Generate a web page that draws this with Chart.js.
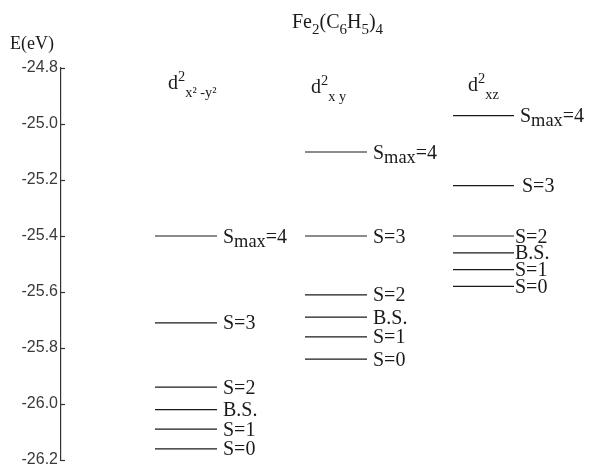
<!DOCTYPE html>
<html>
<head>
<meta charset="utf-8">
<script src="https://cdn.jsdelivr.net/npm/chart.js@4/dist/chart.umd.min.js"></script>
<style>
  html, body { margin: 0; padding: 0; background: #fff; }
  canvas { display: block; }
</style>
</head>
<body>
<canvas id="grafico" width="592" height="466"></canvas>
<script>
"use strict";

/* ===== dados: níveis de energia (eV) ===== */

const estados = ["Smax=4", "S=3", "S=2", "B.S.", "S=1", "S=0"];

const energiaX2Y2 = [-25.40, -25.71, -25.94, -26.02, -26.09, -26.16];
const energiaXY   = [-25.10, -25.40, -25.61, -25.69, -25.76, -25.84];
const energiaXZ   = [-24.97, -25.22, -25.40, -25.46, -25.52, -25.58];

const yMin = -26.2;
const yMax = -24.8;
const yPasso = 0.2;

/* ===== layout das colunas (unidades do eixo x) ===== */

const EIXO_X = 61;

const colunas = [
    { energia: energiaX2Y2, x0: 94,  x1: 156, gap: [6, 6, 6, 6, 6, 6] },
    { energia: energiaXY,   x0: 244, x1: 306, gap: [6, 6, 6, 6, 6, 6] },
    { energia: energiaXZ,   x0: 392, x1: 453, gap: [6, 8, 1, 1, 1, 1] }
];

const SERIF = "'Liberation Serif', 'DejaVu Serif', serif";
const SANS  = "'Liberation Sans', Arial, sans-serif";
const COR = "#1a1a1a";

/* ===== texto com sub/sobrescrito ===== */

function textoRico(ctx, x, y, partes, tam){

    ctx.textBaseline = "alphabetic";
    ctx.textAlign = "left";

    partes.forEach(function(p){

        const r = p.r || (p.sub || p.sup ? 0.72 : 1);
        const dy = p.sub ? tam * (p.dy || 0.32) : (p.sup ? -tam * 0.42 : 0);

        ctx.font = (tam * r) + "px " + SERIF;
        ctx.fillText(p.t, x, y + dy);
        x += ctx.measureText(p.t).width;

    });

}

function partesEstado(nome){

    if(nome === "Smax=4"){
        return [{ t: "S" }, { t: "max", sub: true, r: 0.92, dy: 0.2 }, { t: "=4" }];
    }

    return [{ t: nome }];

}

/* ===== datasets: uma linha por nível ===== */

const datasets = [];

colunas.forEach(function(c){

    c.energia.forEach(function(e){

        datasets.push({
            data: [{ x: c.x0, y: e }, { x: c.x1, y: e }],
            showLine: true,
            borderColor: COR,
            borderWidth: 1.2,
            pointRadius: 0
        });

    });

});

/* ===== plugin: rótulos, títulos e ticks internos ===== */

const anotacoes = {

    id: "anotacoes",

    afterDraw: function(chart){

        const ctx = chart.ctx;
        const sx = chart.scales.x;
        const sy = chart.scales.y;

        ctx.save();
        ctx.fillStyle = COR;

        // ticks para dentro do eixo
        ctx.strokeStyle = "#333";
        ctx.lineWidth = 1.2;
        sy.ticks.forEach(function(t){
            const py = Math.round(sy.getPixelForValue(t.value)) + 0.5;
            ctx.beginPath();
            ctx.moveTo(sx.left, py);
            ctx.lineTo(sx.left + 4, py);
            ctx.stroke();
        });

        // rótulos dos estados
        colunas.forEach(function(c){
            c.energia.forEach(function(e, i){
                const px = sx.getPixelForValue(c.x1) + c.gap[i];
                const py = sy.getPixelForValue(e) + 6.5;
                textoRico(ctx, px, py, partesEstado(estados[i]), 20);
            });
        });

        // título
        textoRico(ctx, 292, 28, [
            { t: "Fe" }, { t: "2", sub: true, r: 0.75 }, { t: "(C" }, { t: "6", sub: true, r: 0.75 },
            { t: "H" }, { t: "5", sub: true, r: 0.75 }, { t: ")" }, { t: "4", sub: true, r: 0.75 }
        ], 20);

        // eixo
        textoRico(ctx, 10, 49, [{ t: "E(eV)" }], 18);

        // cabeçalhos das colunas
        textoRico(ctx, 168, 89, [{ t: "d" }, { t: "2", sup: true }, { t: "x² -y²", sub: true, dy: 0.38 }], 20);
        textoRico(ctx, 311, 93, [{ t: "d" }, { t: "2", sup: true }, { t: "x y", sub: true, dy: 0.38 }], 20);
        textoRico(ctx, 468, 91, [{ t: "d" }, { t: "2", sup: true }, { t: "xz", sub: true, dy: 0.38 }], 20);

        ctx.restore();

    }

};

/* ===== gráfico ===== */

new Chart(document.getElementById("grafico"), {

    type: "scatter",

    data: { datasets: datasets },

    options: {

        responsive: false,
        animation: false,

        layout: { padding: { top: 68, bottom: 6, left: 0, right: 0 } },

        plugins: {
            legend: { display: false },
            tooltip: { enabled: false }
        },

        scales: {

            x: {
                type: "linear",
                min: 0,
                max: 592 - EIXO_X,
                display: false
            },

            y: {
                type: "linear",
                min: yMin,
                max: yMax,
                afterFit: function(s){
                    s.width = EIXO_X;
                    s.paddingTop = 0;
                    s.paddingBottom = 0;
                },
                border: { display: true, color: "#333", width: 1.2 },
                grid: { display: true, drawOnChartArea: false, drawTicks: false },
                ticks: {
                    stepSize: yPasso,
                    padding: 3,
                    color: "#3a3a3a",
                    font: { family: SANS, size: 16 },
                    callback: function(v){ return v.toFixed(1); }
                }
            }

        }

    },

    plugins: [anotacoes]

});
</script>
</body>
</html>
